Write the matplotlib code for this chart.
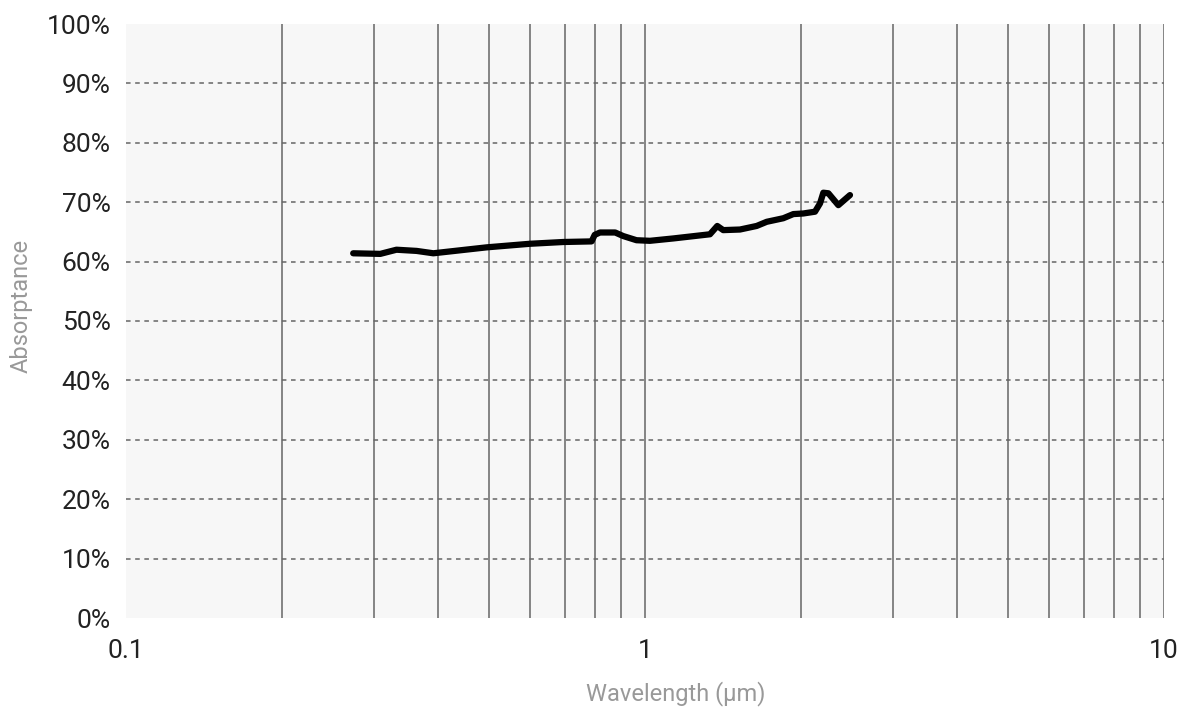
import numpy as np
import matplotlib.pyplot as plt
import matplotlib.ticker as ticker

plt.rcParams['font.family'] = ['Liberation Sans Narrow', 'Roboto', 'DejaVu Sans']

wavelength = [0.274, 0.309, 0.332, 0.363, 0.391, 0.4955, 0.600, 0.696, 0.789, 0.800,
              0.819, 0.876, 0.908, 0.963, 1.022, 1.134, 1.334, 1.378, 1.415, 1.524,
              1.641, 1.716, 1.847, 1.931, 2.018, 2.126, 2.174, 2.206, 2.256, 2.358, 2.483]
absorptance = [61.4, 61.3, 62.0, 61.8, 61.4, 62.4, 63.0, 63.3, 63.4, 64.5,
               64.9, 64.9, 64.3, 63.6, 63.5, 63.9, 64.6, 66.0, 65.3, 65.4,
               66.0, 66.7, 67.3, 68.0, 68.1, 68.4, 69.8, 71.6, 71.5, 69.5, 71.2]

fig = plt.figure(figsize=(11.9, 7.12), dpi=100)
ax = fig.add_axes([126 / 1190, 1 - 618 / 712, 1038 / 1190, 594 / 712])
ax.set_facecolor('#f7f7f7')

ax.plot(wavelength, absorptance, color='black', linewidth=4.5,
        solid_capstyle='round', solid_joinstyle='round', zorder=3)

ax.set_xscale('log')
ax.set_xlim(0.1, 10)
ax.set_ylim(0, 100)
ax.xaxis.set_major_locator(ticker.FixedLocator([0.1, 1, 10]))
ax.xaxis.set_major_formatter(ticker.FixedFormatter(['0.1', '1', '10']))
ax.xaxis.set_minor_locator(ticker.LogLocator(base=10, subs=np.arange(2, 10)))
ax.xaxis.set_minor_formatter(ticker.NullFormatter())
ax.yaxis.set_major_locator(ticker.MultipleLocator(10))
ax.yaxis.set_major_formatter(ticker.FuncFormatter(lambda v, p: f'{int(round(v))}%'))

# vertical grid at every decade step, dashed horizontal grid
for xv in [0.2, 0.3, 0.4, 0.5, 0.6, 0.7, 0.8, 0.9, 1, 2, 3, 4, 5, 6, 7, 8, 9, 10]:
    ax.axvline(xv, color='#666666', linewidth=1.1, zorder=1)
for yv in range(10, 100, 10):
    ax.axhline(yv, color='#666666', linewidth=1.1, linestyle=(0, (3, 3)), zorder=1)

for s in ax.spines.values():
    s.set_visible(False)
ax.tick_params(axis='both', which='both', length=0, labelsize=19, colors='#222222')
ax.tick_params(axis='y', pad=11)
ax.tick_params(axis='x', pad=15)

ax.set_xlabel('Wavelength (µm)', fontsize=17, color='#999999', va='center')
ax.set_ylabel('Absorptance', fontsize=17, color='#999999', va='center')
ax.xaxis.set_label_coords(0.530, -0.128)
ax.yaxis.set_label_coords(-0.101, 0.525)

fig.savefig('out.png', dpi=100)
